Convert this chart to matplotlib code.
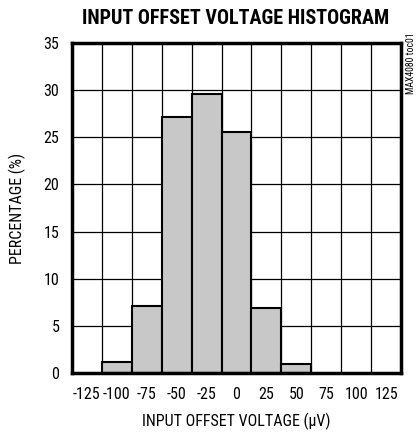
import matplotlib
matplotlib.use("Agg")
import matplotlib.pyplot as plt

plt.rcParams['font.family'] = ['Roboto Condensed', 'Archivo Narrow', 'Liberation Sans', 'DejaVu Sans']
plt.rcParams['axes.unicode_minus'] = False

bin_centers = [-100, -75, -50, -25, 0, 25, 50]
percentages = [1.2, 7.1, 27.1, 29.6, 25.6, 6.9, 1.0]
xticks = [-125, -100, -75, -50, -25, 0, 25, 50, 75, 100, 125]
yticks = [0, 5, 10, 15, 20, 25, 30, 35]

fig = plt.figure(figsize=(4.16, 4.37), dpi=100)
ax = fig.add_axes([0.173, 0.146, 0.791, 0.756])
ax.bar(bin_centers, percentages, width=25, color='#c8c8c8', edgecolor='black', linewidth=1.5, zorder=3)
ax.set_xlim(-137.5, 137.5)
ax.set_ylim(0, 35)
ax.set_xticks(xticks)
ax.set_yticks(yticks)
ax.set_xticks([x + 12.5 for x in xticks[:-1]], minor=True)
ax.grid(False)
ax.grid(which='minor', axis='x', color='black', linewidth=0.9, zorder=1)
ax.grid(which='major', axis='y', color='black', linewidth=0.9, zorder=1)
ax.tick_params(which='both', length=0, labelsize=11.5)
ax.tick_params(axis='x', pad=10)
ax.tick_params(axis='y', pad=9)
for s in ax.spines.values():
    s.set_linewidth(2.5)
    s.set_zorder(5)
ax.set_xlabel('INPUT OFFSET VOLTAGE (\u03bcV)', fontsize=11.5, labelpad=8)
ax.set_ylabel('PERCENTAGE (%)', fontsize=11.5, labelpad=13)
fig.text(0.567, 0.957, 'INPUT OFFSET VOLTAGE HISTOGRAM', ha='center', va='center',
         fontsize=14.5, fontweight='heavy')
fig.text(0.988, 0.925, 'MAX4080 toc01', rotation=90, ha='center', va='top', fontsize=7)
fig.savefig('out.png', dpi=100)
